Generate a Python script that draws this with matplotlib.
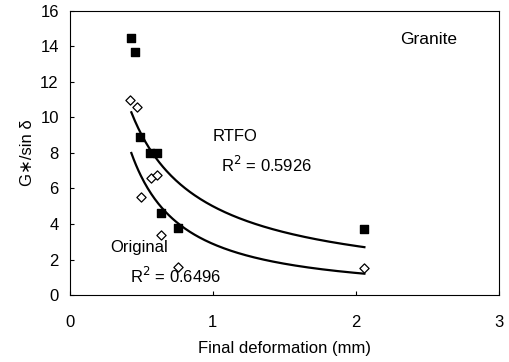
import numpy as np
import matplotlib
matplotlib.use("Agg")
import matplotlib.pyplot as plt

plt.rcParams['font.family'] = ['Liberation Sans', 'DejaVu Sans']

# RTFO-aged binder (filled squares)
rtfo_x = [0.43, 0.455, 0.49, 0.56, 0.61, 0.64, 0.755, 2.06]
rtfo_y = [14.5, 13.7, 8.9, 8.0, 8.0, 4.6, 3.75, 3.7]

# original binder (open diamonds)
orig_x = [0.42, 0.47, 0.50, 0.57, 0.61, 0.64, 0.755, 2.06]
orig_y = [11.0, 10.6, 5.5, 6.6, 6.75, 3.4, 1.6, 1.55]

# power trendlines y = a * x^b
rtfo_fit = (5.0, -0.855)
orig_fit = (2.88, -1.21)

fig = plt.figure(figsize=(5.1, 3.62), dpi=100)
ax = fig.add_axes([0.137, 0.185, 0.841, 0.785])

ax.scatter(rtfo_x, rtfo_y, marker='s', s=30, c='black', zorder=3)
ax.scatter(orig_x, orig_y, marker='D', s=22, facecolors='white',
           edgecolors='black', linewidths=0.9, zorder=3)

xx = np.linspace(0.43, 2.06, 200)
for a, b in (rtfo_fit, orig_fit):
    ax.plot(xx, a * xx ** b, color='black', lw=1.6)

ax.text(2.31, 14.4, 'Granite', fontsize=12.5, va='center')
ax.text(1.0, 8.9, 'RTFO', fontsize=12, va='center')
ax.text(1.06, 7.3, 'R$^2$ = 0.5926', fontsize=12, va='center')
ax.text(0.28, 2.7, 'Original', fontsize=12, va='center')
ax.text(0.42, 1.1, 'R$^2$ = 0.6496', fontsize=12, va='center')

ax.set_xlim(0, 3)
ax.set_ylim(0, 16)
ax.set_xticks([0, 1, 2, 3])
ax.set_yticks(range(0, 17, 2))
ax.tick_params(direction='in', length=3, labelsize=12)
ax.tick_params(axis='x', pad=14.5)
ax.tick_params(axis='y', pad=8)
ax.set_xlabel('Final deformation (mm)', fontsize=12, labelpad=8)
ax.set_ylabel('G\u2217/sin δ', fontsize=12)

fig.savefig('out.png', dpi=100)
